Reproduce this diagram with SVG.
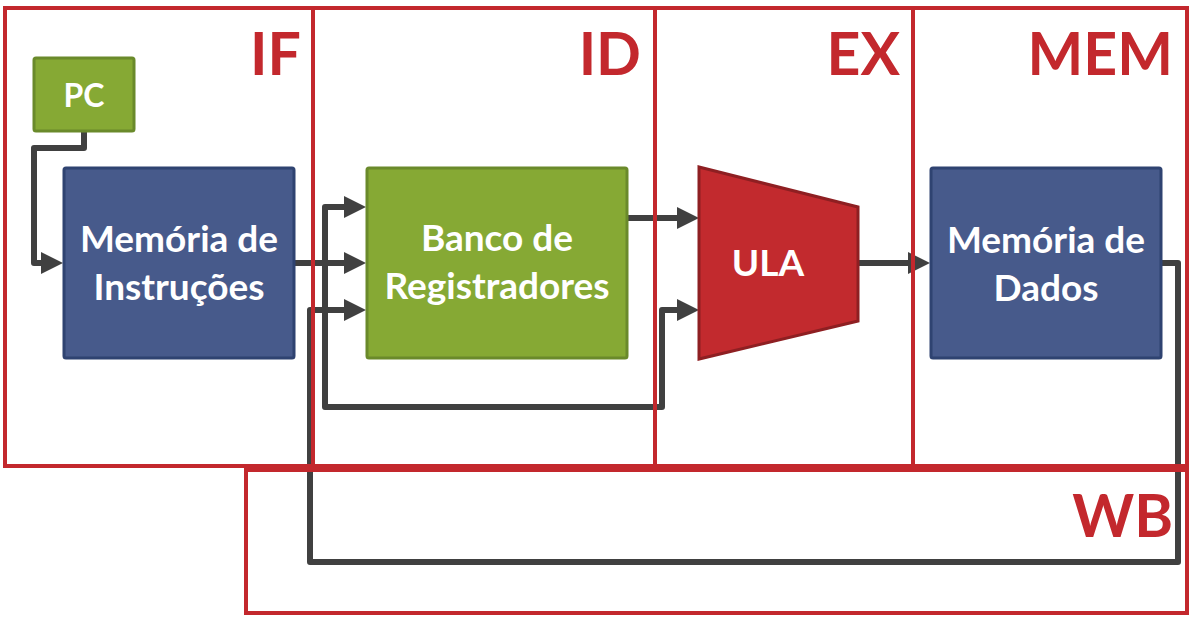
<svg xmlns="http://www.w3.org/2000/svg" width="1193" height="624" viewBox="0 0 1193 624">
<style>
.conn{fill:none;stroke:#404040;stroke-width:6;stroke-linejoin:round;stroke-linecap:butt}
.stage{fill:none;stroke:#C3282D;stroke-width:4}
.slabel{font-family:Lato,"Liberation Sans",sans-serif;font-weight:bold;font-size:59px;fill:#C3282D;text-anchor:end}
.green{fill:#86A934;stroke:#6A8A2B;stroke-width:3}
.blue{fill:#475A8B;stroke:#2F4371;stroke-width:3}
.red{fill:#C22A2E;stroke:#8E1F22;stroke-width:3}
.t{font-family:Lato,"Liberation Sans",sans-serif;font-weight:bold;font-size:37px;fill:#FFFFFF;text-anchor:middle}
</style>
<defs>
<marker id="arr" markerUnits="userSpaceOnUse" viewBox="0 0 22 22" markerWidth="22" markerHeight="22" refX="12" refY="11" orient="auto-start-reverse">
<path d="M0,0 L22,11 L0,22 z" fill="#404040"/>
</marker>
</defs>
<rect width="1193" height="624" fill="#FFFFFF"/>
<g id="connectors">
<path class="conn" d="M84,132 V148 H34 V263 H53" marker-end="url(#arr)"/>
<path class="conn" d="M295,263 H356" marker-end="url(#arr)"/>
<path class="conn" d="M356,207 H325 V407 H662 V310 H689" marker-start="url(#arr)" marker-end="url(#arr)"/>
<path class="conn" d="M1162,263 H1178 V562 H310 V310 H356" marker-end="url(#arr)"/>
<path class="conn" d="M628,218 H689" marker-end="url(#arr)"/>
<path class="conn" d="M858,263 H920" marker-end="url(#arr)"/>
</g>
<g id="pc">
<rect class="green" x="34" y="58" width="100" height="73" rx="2"/>
<text class="t" x="84" y="107" style="font-size:32px">PC</text>
</g>
<g id="mem-instr">
<rect class="blue" x="64" y="168" width="230" height="190" rx="2"/>
<text class="t" x="179" y="252">Memória de</text>
<text class="t" x="179" y="300">Instruções</text>
</g>
<g id="banco">
<rect class="green" x="367" y="168" width="260" height="190" rx="2"/>
<text class="t" x="497" y="251">Banco de</text>
<text class="t" x="497" y="299">Registradores</text>
</g>
<g id="ula">
<polygon class="red" points="699,167 858,207 858,321 699,359"/>
<text class="t" x="768" y="276">ULA</text>
</g>
<g id="mem-dados">
<rect class="blue" x="931" y="168" width="230" height="190" rx="2"/>
<text class="t" x="1046" y="253">Memória de</text>
<text class="t" x="1046" y="301">Dados</text>
</g>
<g id="stage-if">
<rect class="stage" x="5" y="8" width="308" height="458"/>
<text class="slabel" x="301" y="75">IF</text>
</g>
<g id="stage-id">
<rect class="stage" x="313" y="8" width="342" height="458"/>
<text class="slabel" x="641" y="75">ID</text>
</g>
<g id="stage-ex">
<rect class="stage" x="655" y="8" width="258" height="458"/>
<text class="slabel" x="900" y="75">EX</text>
</g>
<g id="stage-mem">
<rect class="stage" x="913" y="8" width="274" height="458"/>
<text class="slabel" x="1173" y="75">MEM</text>
</g>
<g id="stage-wb">
<rect class="stage" x="246" y="470" width="941" height="143"/>
<text class="slabel" x="1173" y="537">WB</text>
</g>
</svg>
